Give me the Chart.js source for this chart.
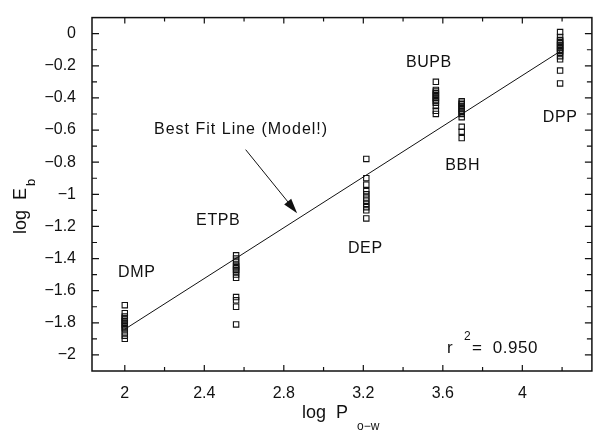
<!DOCTYPE html>
<html>
<head>
<meta charset="utf-8">
<script src="https://cdn.jsdelivr.net/npm/chart.js@4.4.0/dist/chart.umd.min.js"></script>
<style>
  html, body { margin: 0; padding: 0; background: #fff; }
</style>
</head>
<body>
<canvas id="myChart" width="597" height="432"></canvas>
<script>
// data
let compounds = ['DMP', 'ETPB', 'DEP', 'BUPB', 'BBH', 'DPP'];
let logPow = [2.00, 2.56, 3.215, 3.565, 3.695, 4.19];

let logEbDMP = [-1.69, -1.74, -1.76, -1.77, -1.78, -1.79, -1.80, -1.81, -1.82, -1.83, -1.84, -1.86, -1.88, -1.90];
let logEbETPB = [-1.38, -1.40, -1.42, -1.44, -1.45, -1.46, -1.47, -1.48, -1.50, -1.52, -1.64, -1.66, -1.70, -1.81];
let logEbDEP = [-0.78, -0.90, -0.94, -0.98, -1.00, -1.02, -1.04, -1.06, -1.08, -1.10, -1.15];
let logEbBUPB = [-0.30, -0.35, -0.36, -0.37, -0.38, -0.39, -0.40, -0.41, -0.42, -0.43, -0.45, -0.48, -0.50];
let logEbBBH = [-0.42, -0.43, -0.44, -0.45, -0.46, -0.47, -0.48, -0.49, -0.50, -0.52, -0.58, -0.61, -0.65];
let logEbDPP = [0.01, -0.02, -0.04, -0.05, -0.06, -0.07, -0.08, -0.09, -0.10, -0.11, -0.12, -0.14, -0.16, -0.23, -0.31];

let logEbAll = [logEbDMP, logEbETPB, logEbDEP, logEbBUPB, logEbBBH, logEbDPP];

// best fit line (model) end points
let fitX = [2.00, 4.19];
let fitY = [-1.84, -0.11];
let rSquared = '0.950';

let xTickValues = [2, 2.4, 2.8, 3.2, 3.6, 4];
let xTickLabels = ['2', '2.4', '2.8', '3.2', '3.6', '4'];
let yTickValues = [0, -0.2, -0.4, -0.6, -0.8, -1, -1.2, -1.4, -1.6, -1.8, -2];
let yTickLabels = ['0', '\u22120.2', '\u22120.4', '\u22120.6', '\u22120.8', '\u22121', '\u22121.2', '\u22121.4', '\u22121.6', '\u22121.8', '\u22122'];

var FONT = '"Liberation Sans", Arial, sans-serif';
var INK = '#111';

var pointData = [];
logEbAll.forEach(function(list, i) {
    list.forEach(function(v) {
        pointData.push({ x: logPow[i], y: v });
    });
});

// where the compound names sit (data units)
var labelPos = {
    DMP: [2.06, -1.49],
    ETPB: [2.47, -1.165],
    DEP: [3.21, -1.34],
    BUPB: [3.53, -0.18],
    BBH: [3.70, -0.82],
    DPP: [4.19, -0.52]
};

var decor = {
    id: 'decor',
    afterDraw: function(chart) {
        var c = chart.ctx;
        var a = chart.chartArea;
        var xs = chart.scales.x;
        var ys = chart.scales.y;
        c.save();

        // frame
        c.strokeStyle = INK;
        c.lineWidth = 1.5;
        c.strokeRect(a.left, a.top, a.right - a.left, a.bottom - a.top);

        // inward ticks on all four sides
        c.lineWidth = 1.2;
        c.beginPath();
        for (var i = 0; i <= 11; i++) {
            var xv = 2 + i * 0.2;
            var px = xs.getPixelForValue(xv);
            if (px <= a.left || px >= a.right) continue;
            var len = (i % 2 === 0) ? 6 : 4;
            c.moveTo(px, a.bottom); c.lineTo(px, a.bottom - len);
            c.moveTo(px, a.top); c.lineTo(px, a.top + len);
        }
        for (var j = -20; j <= 0; j++) {
            var yv = j / 10;
            var py = ys.getPixelForValue(yv);
            var len2 = (j % 2 === 0) ? 7 : 5;
            c.moveTo(a.left, py); c.lineTo(a.left + len2, py);
            c.moveTo(a.right, py); c.lineTo(a.right - len2, py);
        }
        c.stroke();

        c.fillStyle = INK;
        c.textBaseline = 'middle';
        c.textAlign = 'center';
        c.font = '16px ' + FONT;
        c.letterSpacing = '0.6px';
        compounds.forEach(function(name) {
            var p = labelPos[name];
            c.fillText(name, xs.getPixelForValue(p[0]), ys.getPixelForValue(p[1]));
        });

        // best fit annotation and arrow
        c.letterSpacing = '1px';
        c.fillText('Best Fit Line (Model!)', xs.getPixelForValue(2.585), ys.getPixelForValue(-0.595));
        c.letterSpacing = '0px';
        var x0 = xs.getPixelForValue(2.608), y0 = ys.getPixelForValue(-0.722);
        var x1 = xs.getPixelForValue(2.867), y1 = ys.getPixelForValue(-1.118);
        var ang = Math.atan2(y1 - y0, x1 - x0);
        c.lineWidth = 1;
        c.beginPath();
        c.moveTo(x0, y0);
        c.lineTo(x1 - 12 * Math.cos(ang), y1 - 12 * Math.sin(ang));
        c.stroke();
        c.beginPath();
        c.moveTo(x1, y1);
        c.lineTo(x1 - 15 * Math.cos(ang) + 4.5 * Math.sin(ang), y1 - 15 * Math.sin(ang) - 4.5 * Math.cos(ang));
        c.lineTo(x1 - 15 * Math.cos(ang) - 4.5 * Math.sin(ang), y1 - 15 * Math.sin(ang) + 4.5 * Math.cos(ang));
        c.closePath();
        c.fill();

        // r^2
        c.textAlign = 'left';
        c.textBaseline = 'alphabetic';
        c.font = '17px ' + FONT;
        c.letterSpacing = '0.5px';
        c.fillText('r', 447, 353);
        c.fillText('=  ' + rSquared, 472, 353);
        c.font = '12px ' + FONT;
        c.fillText('2', 464, 340);
        c.letterSpacing = '0px';

        // axis titles
        c.font = '18px ' + FONT;
        c.fillText('log  P', 302, 418);
        c.font = '12px ' + FONT;
        c.fillText('o\u2212w', 357, 430);

        c.save();
        c.translate(26, 234);
        c.rotate(-Math.PI / 2);
        c.font = '18px ' + FONT;
        c.fillText('log  E', 0, 0);
        var w = c.measureText('log  E').width;
        c.font = '13px ' + FONT;
        c.fillText('b', w + 2, 9);
        c.restore();

        c.restore();
    }
};

var ctx = document.getElementById('myChart').getContext('2d');
var myChart = new Chart(ctx, {
    type: 'scatter',
    data: {
        datasets: [{
            label: 'log Eb',
            data: pointData,
            pointStyle: 'rect',
            pointRadius: 3.8,
            pointBorderWidth: 1.1,
            pointBorderColor: INK,
            pointBackgroundColor: 'rgba(255,255,255,0)',
            showLine: false
        },
        {
            label: 'Best fit',
            data: fitX.map(function(x, i) { return { x: x, y: fitY[i] }; }),
            showLine: true,
            borderColor: INK,
            borderWidth: 1,
            pointRadius: 0,
            fill: false
        }]
    },
    options: {
        responsive: false,
        animation: false,
        layout: { padding: { top: 13, right: 2, left: 0, bottom: 0 } },
        plugins: { legend: { display: false }, tooltip: { enabled: false } },
        scales: {
            x: {
                type: 'linear',
                min: 1.835,
                max: 4.35,
                grid: { display: false },
                border: { display: false },
                afterBuildTicks: function(s) { s.ticks = xTickValues.map(function(v) { return { value: v }; }); },
                afterFit: function(s) { s.height = 61; },
                ticks: {
                    autoSkip: false,
                    maxRotation: 0,
                    padding: 5,
                    color: INK,
                    font: { family: FONT, size: 16 },
                    callback: function(v, i) { return xTickLabels[i]; }
                }
            },
            y: {
                type: 'linear',
                min: -2.1,
                max: 0.1,
                grid: { display: false },
                border: { display: false },
                afterBuildTicks: function(s) { s.ticks = yTickValues.map(function(v) { return { value: v }; }); },
                afterFit: function(s) { s.width = 92; },
                ticks: {
                    autoSkip: false,
                    padding: 8,
                    color: INK,
                    font: { family: FONT, size: 16 },
                    callback: function(v, i) { return yTickLabels[i]; }
                }
            }
        }
    },
    plugins: [decor]
});
</script>
</body>
</html>
